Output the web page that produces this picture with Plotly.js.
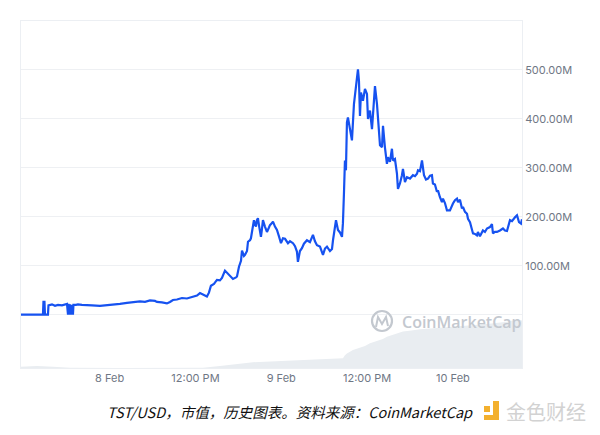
<!DOCTYPE html>
<html>
<head>
<meta charset="utf-8">
<script src="https://cdn.plot.ly/plotly-3.0.1.min.js"></script>
<style>html,body{margin:0;padding:0;background:#fff;}#chart{width:600px;height:435px;}</style>
</head>
<body>
<div id="chart"></div>
<script>
// Hours after 2025-02-08 00:00 (UTC) and market cap in millions USD
const capHours = [-12.38,-9.31,-9.24,-9.10,-9.03,-8.61,-8.54,-8.05,-7.63,-7.21,-6.65,-6.23,-5.95,-5.81,-5.74,-5.61,-5.54,-5.40,-5.26,-5.12,-5.05,-4.70,-4.42,-3.86,-3.16,-2.46,-1.34,-0.50,0.48,1.45,2.43,3.27,4.25,4.95,5.65,6.35,6.63,7.32,8.02,8.44,8.86,9.42,10.12,10.82,11.66,12.22,12.64,13.20,13.61,13.89,14.17,14.59,15.01,15.43,15.71,16.13,16.55,16.83,17.25,17.67,17.81,18.09,18.37,18.51,18.79,18.93,19.21,19.35,19.63,19.76,20.04,20.18,20.32,20.46,20.60,20.74,20.88,21.02,21.16,21.30,21.44,21.72,22.00,22.28,22.42,22.70,22.84,23.12,23.40,23.68,23.82,23.96,24.24,24.52,24.94,25.22,25.64,25.92,26.19,26.33,26.61,26.89,27.17,27.59,28.01,28.43,28.71,28.99,29.41,29.83,30.11,30.39,30.81,31.09,31.23,31.37,31.65,31.93,32.21,32.49,32.62,32.76,32.90,33.04,33.18,33.32,33.60,33.88,34.16,34.44,34.72,34.86,35.00,35.14,35.42,35.70,35.98,36.12,36.40,36.68,36.82,37.10,37.38,37.52,37.80,38.08,38.22,38.49,38.77,38.91,39.19,39.47,39.61,39.89,40.17,40.31,40.59,40.87,41.01,41.29,41.57,41.99,42.41,42.69,42.97,43.11,43.39,43.67,43.95,44.23,44.51,44.79,45.06,45.20,45.48,45.76,45.90,46.18,46.46,46.60,46.88,47.16,47.58,48.00,48.28,48.56,48.70,48.98,49.26,49.40,49.68,49.96,50.10,50.38,50.66,50.80,51.08,51.35,51.49,51.77,52.19,52.47,52.75,53.17,53.45,53.59,53.87,54.15,54.57,54.99,55.27,55.55,55.97,56.25,56.67,56.95,57.23,57.51,57.65];
const capValuesM = [0,0,26,26,0,0,19,21,18,20,19,21,22,0,22,0,21,0,20,0,20,20,21,20,20,19,18,19,20,22,24,25,27,26,29,28,26,25,23,26,30,31,34,33,36,39,44,40,37,45,59,63,71,70,75,90,84,81,73,76,78,98,110,131,120,122,130,149,152,156,179,193,186,180,193,197,183,170,159,175,193,180,169,178,183,187,190,180,173,160,150,146,156,155,146,150,146,140,129,108,130,136,145,152,148,163,150,142,139,122,135,139,130,134,152,167,193,173,168,159,187,247,315,295,393,403,383,356,430,464,501,478,406,454,437,461,451,400,417,379,417,467,430,403,346,342,386,342,308,322,312,339,315,318,288,257,268,285,298,271,281,278,285,283,288,295,293,315,285,276,278,284,285,268,266,251,254,240,230,237,228,213,213,227,234,237,230,235,217,220,210,206,196,189,176,166,165,162,169,160,172,169,176,179,185,166,169,169,172,176,172,171,193,191,199,203,189,186,195];

// Trading volume (background area), millions USD
const volHours = [-12.38,-10.15,-7.91,-5.54,1.45,13.06,15.43,20.04,24.80,29.41,32.62,32.90,33.18,34.02,35.00,35.70,36.40,37.52,38.20,38.77,39.89,41.01,42.20,43.39,45.76,48.00,50.38,52.75,55.55,56.95,57.65];
const volValuesM = [2,3.5,2,0.5,0,0.5,3.5,10,12.5,15,16.8,22,25,31,35,38,43,48,50,54,59,63,65,67,69,71,73,76,80,84,82];

const xTickHours = [0,12,24,36,48];
const xTickLabels = ['8 Feb','12:00 PM','9 Feb','12:00 PM','10 Feb'];
const yTickValsM = [0,100,200,300,400,500];
const yTickLabels = ['','100.00M','200.00M','300.00M','400.00M','500.00M'];

const base = Date.UTC(2025,1,8);
function toDate(h){
  const d = new Date(base + h*3600000);
  return d.toISOString().slice(0,19).replace('T',' ');
}

const xRange = [toDate(-12.38), toDate(57.65)];

const volTrace = {
  x: volHours.map(toDate), y: volValuesM, yaxis:'y2', type:'scatter', mode:'lines',
  line:{width:0, color:'#e9edf1'}, fill:'tozeroy', fillcolor:'#e9edf1', hoverinfo:'skip'
};
const capTrace = {
  x: capHours.map(toDate), y: capValuesM.map(v=>v*1e6), type:'scatter', mode:'lines',
  line:{color:'#1652f0', width:2.2}, hoverinfo:'skip'
};

// pixel -> paper helpers for decorations
const L=21,R=522,T=21,B=368;
const px = x => (x-L)/(R-L);
const py = y => (B-y)/(B-T);

const gray = '#c3c8cf';
const layout = {
  width:600, height:435,
  margin:{l:L, r:600-R, t:T, b:435-B},
  paper_bgcolor:'#fff', plot_bgcolor:'#fff',
  showlegend:false,
  font:{family:'Inter, "Liberation Sans", sans-serif', color:'#6f7785', size:11},
  xaxis:{type:'date', range:xRange, tickvals:xTickHours.map(toDate), ticktext:xTickLabels,
    showgrid:false, zeroline:false, showline:true, mirror:true, linecolor:'#eceff3', linewidth:1,
    ticks:'', tickfont:{size:11, color:'#6f7785'}, fixedrange:true},
  yaxis:{side:'right', range:[-109e6, 600e6], tickvals:yTickValsM.map(v=>v*1e6), ticktext:yTickLabels,
    showgrid:true, gridcolor:'#eef0f3', gridwidth:1, zeroline:false, showline:true, mirror:true,
    linecolor:'#eceff3', ticks:'', tickfont:{size:11, color:'#6f7785'}, fixedrange:true},
  yaxis2:{overlaying:'y', range:[0,600], visible:false, fixedrange:true},
  shapes:[
    {type:'circle', xref:'paper', yref:'paper', x0:px(372), x1:px(392), y0:py(331), y1:py(311), line:{color:gray, width:2.2}},
    {type:'path', xref:'paper', yref:'paper',
     path:`M ${px(376)} ${py(327)} L ${px(378)} ${py(317)} L ${px(382)} ${py(324)} L ${px(386)} ${py(317)} L ${px(388)} ${py(326)}`,
     line:{color:gray, width:2}},
    {type:'rect', xref:'paper', yref:'paper', x0:px(484), x1:px(490), y0:py(412), y1:py(406), fillcolor:'#f3b02e', line:{width:0}},
    {type:'rect', xref:'paper', yref:'paper', x0:px(493), x1:px(499), y0:py(420), y1:py(401), fillcolor:'#f3b02e', line:{width:0}},
    {type:'rect', xref:'paper', yref:'paper', x0:px(484), x1:px(499), y0:py(420), y1:py(415), fillcolor:'#f3b02e', line:{width:0}}
  ],
  annotations:[
    {xref:'paper', yref:'paper', x:px(400), y:py(322), xanchor:'left', yanchor:'middle', showarrow:false,
     text:'CoinMarketCap', font:{family:'"Open Sans", "Noto Sans", sans-serif', size:16, color:gray, weight:600}},
    {xref:'paper', yref:'paper', x:px(290), y:py(411), xanchor:'center', yanchor:'middle', showarrow:false,
     text:'<i>TST/USD，市值，历史图表。资料来源：CoinMarketCap</i>',
     font:{family:'"Noto Sans CJK SC", "Noto Sans", sans-serif', size:14.5, color:'#111'}},
    {xref:'paper', yref:'paper', x:px(504), y:py(411), xanchor:'left', yanchor:'middle', showarrow:false,
     text:'金色财经', font:{family:'"Noto Sans CJK SC", sans-serif', size:20, color:'#d2d2d2'}}
  ]
};

Plotly.newPlot('chart', [volTrace, capTrace], layout, {displayModeBar:false, staticPlot:true});
</script>
</body>
</html>
